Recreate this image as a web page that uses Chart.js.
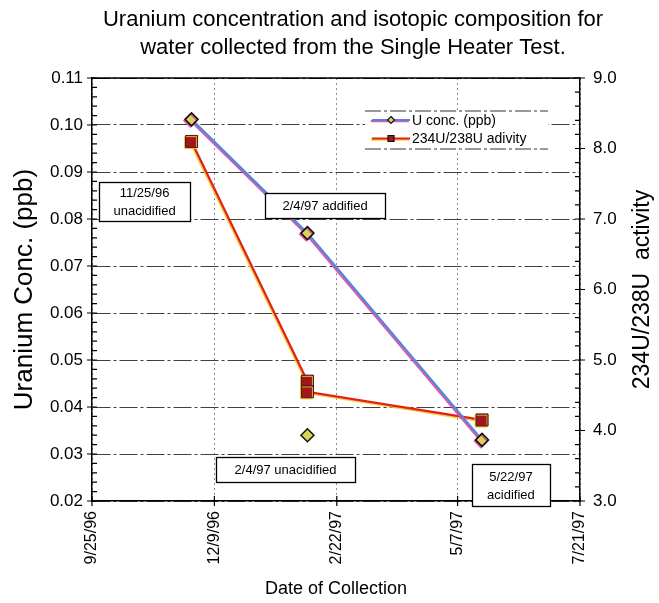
<!DOCTYPE html>
<html>
<head>
<meta charset="utf-8">
<script src="https://cdn.jsdelivr.net/npm/chart.js@4/dist/chart.umd.min.js"></script>
<style>
  html, body { margin: 0; padding: 0; background: #fff; }
  canvas { display: block; }
</style>
</head>
<body>
<canvas id="chart" width="659" height="603"></canvas>
<script>
// Sample collection dates (m/d/yy) and measured values
const acidifiedDates = ['11/25/96', '2/4/97', '5/22/97'];
const uConcPpb = [0.1012, 0.077, 0.033];
const unacidifiedDates = ['2/4/97'];
const unacidifiedUConcPpb = [0.034];
const ratioDates = ['11/25/96', '2/4/97', '2/4/97', '5/22/97'];
const activityRatio = [8.1, 4.7, 4.55, 4.15];
const dateTickLabels = ['9/25/96', '12/9/96', '2/22/97', '5/7/97', '7/21/97'];
const seriesLabels = ['U conc. (ppb)', '234U/238U adivity'];
const titleLines = ['Uranium concentration and isotopic composition for',
                    'water collected from the Single Heater Test.'];

// Boxed notes, anchored in data units (day, left-axis value)
const notes = [
  { lines: ['11/25/96', 'unacidified'], day: 32.2, value: 0.0838, w: 91, h: 39 },
  { lines: ['2/4/97 addified'], day: 142.8, value: 0.0828, w: 120, h: 25 },
  { lines: ['2/4/97 unacidified'], day: 118.6, value: 0.0268, w: 139, h: 25 },
  { lines: ['5/22/97', 'acidified'], day: 256.7, value: 0.0234, w: 78, h: 42 }
];

const FONT = '"Liberation Sans", Arial, Helvetica, sans-serif';
const ORIGIN = Date.UTC(1996, 8, 25);

function dayOf(s) {
  const [m, d, y] = s.split('/').map(Number);
  return Math.round((Date.UTC(1900 + y, m - 1, d) - ORIGIN) / 864e5);
}
const toPoints = (dates, vals) => dates.map((d, i) => ({ x: dayOf(d), y: vals[i] }));
const tickDays = dateTickLabels.map(dayOf);

const diamondFill = '#d8d45a';
const squareFill = '#a3161b';

// Axis tick marks (major crossing the axis, minor inside), legend, notes, right title
const decor = {
  id: 'decor',
  afterLayout(chart) {
    // centre the title block a little right of the canvas centre
    chart.titleBlock.left = 47;
    chart.titleBlock.right = 659;
  },
  beforeDatasetDraw(chart, args) {
    const ds = chart.data.datasets[args.index];
    const ctx = chart.ctx;
    ctx.save();
    if (ds.fringeColor) {
      ctx.shadowColor = ds.fringeColor;
      ctx.shadowOffsetX = ds.fringeOffset[0];
      ctx.shadowOffsetY = ds.fringeOffset[1];
      ctx.shadowBlur = 0;
    }
  },
  afterDatasetDraw(chart) {
    chart.ctx.restore();
  },
  afterDatasetsDraw(chart) {
    const { ctx, chartArea: ca, scales } = chart;
    ctx.save();

    // top frame line
    ctx.strokeStyle = '#000';
    ctx.lineWidth = 1.5;
    ctx.beginPath();
    ctx.moveTo(ca.left, ca.top);
    ctx.lineTo(ca.right, ca.top);
    ctx.stroke();

    // tick marks
    ctx.lineWidth = 1.2;
    ctx.beginPath();
    const vTicks = (scale, x, dir) => {
      const t = scale.ticks.map(k => k.value);
      for (let i = 0; i < t.length; i++) {
        const p = scale.getPixelForValue(t[i]);
        ctx.moveTo(x - 5 * dir, p);
        ctx.lineTo(x + 5 * dir, p);
        if (i < t.length - 1) {
          for (let j = 1; j < 5; j++) {
            const q = scale.getPixelForValue(t[i] + (t[i + 1] - t[i]) * j / 5);
            ctx.moveTo(x, q);
            ctx.lineTo(x + 5 * dir, q);
          }
        }
      }
    };
    vTicks(scales.y, ca.left, 1);
    vTicks(scales.y1, ca.right, -1);
    scales.x.ticks.forEach(k => {
      const p = scales.x.getPixelForValue(k.value);
      ctx.moveTo(p, ca.bottom - 5);
      ctx.lineTo(p, ca.bottom + 5);
    });
    ctx.stroke();

    // legend box
    const L = ca.left + 273, T = ca.top + 32.5, W = 183, H = 39;
    ctx.fillStyle = '#fff';
    ctx.fillRect(L, T, W, H);
    ctx.strokeStyle = '#333';
    ctx.lineWidth = 1;
    ctx.setLineDash([16, 3, 3, 3]);
    ctx.beginPath();
    ctx.moveTo(L, T + 0.5); ctx.lineTo(L + W, T + 0.5);
    ctx.moveTo(L, T + H - 0.5); ctx.lineTo(L + W, T + H - 0.5);
    ctx.stroke();
    ctx.setLineDash([]);
    [0, 1].forEach(i => {
      const ds = chart.data.datasets[i];
      const cy = T + 9.5 + i * 18.5;
      const x0 = L + 7, x1 = L + 45, cx = (x0 + x1) / 2;
      ctx.save();
      ctx.shadowColor = ds.fringeColor;
      ctx.shadowOffsetX = ds.fringeOffset[0];
      ctx.shadowOffsetY = ds.fringeOffset[1];
      ctx.strokeStyle = ds.borderColor;
      ctx.lineWidth = ds.borderWidth;
      ctx.beginPath();
      ctx.moveTo(x0, cy); ctx.lineTo(x1, cy);
      ctx.stroke();
      ctx.restore();
      ctx.fillStyle = ds.pointBackgroundColor;
      ctx.strokeStyle = '#111';
      ctx.lineWidth = 1.2;
      ctx.beginPath();
      if (ds.pointStyle === 'rectRot') {
        ctx.moveTo(cx, cy - 3.5); ctx.lineTo(cx + 3.5, cy);
        ctx.lineTo(cx, cy + 3.5); ctx.lineTo(cx - 3.5, cy);
        ctx.closePath();
      } else {
        ctx.rect(cx - 3, cy - 3, 6, 6);
      }
      ctx.fill();
      ctx.stroke();
      ctx.fillStyle = '#000';
      ctx.font = '14px ' + FONT;
      ctx.textAlign = 'left';
      ctx.textBaseline = 'middle';
      ctx.fillText(ds.label, L + 47, cy + 1);
    });

    // boxed notes
    notes.forEach(n => {
      const cx = scales.x.getPixelForValue(n.day);
      const cy = scales.y.getPixelForValue(n.value);
      const x = Math.round(cx - n.w / 2) + 0.5, y = Math.round(cy - n.h / 2) + 0.5;
      ctx.fillStyle = '#fff';
      ctx.fillRect(x, y, n.w, n.h);
      ctx.strokeStyle = '#000';
      ctx.lineWidth = 1.3;
      ctx.strokeRect(x, y, n.w, n.h);
      ctx.fillStyle = '#000';
      ctx.font = '13px ' + FONT;
      ctx.textAlign = 'center';
      ctx.textBaseline = 'middle';
      const lh = 18;
      n.lines.forEach((t, k) => {
        ctx.fillText(t, cx, cy + (k - (n.lines.length - 1) / 2) * lh + 1);
      });
    });

    // right-hand axis title, reading upward
    ctx.translate(643, (ca.top + ca.bottom) / 2);
    ctx.rotate(-Math.PI / 2);
    ctx.fillStyle = '#000';
    ctx.font = '23px ' + FONT;
    ctx.textAlign = 'center';
    ctx.textBaseline = 'middle';
    ctx.fillText('234U/238U  activity', 0, 0);
    ctx.restore();
  }
};

new Chart(document.getElementById('chart'), {
  type: 'scatter',
  data: {
    datasets: [
      {
        label: seriesLabels[0],
        data: toPoints(acidifiedDates, uConcPpb),
        yAxisID: 'y',
        showLine: true,
        borderColor: '#4f86e0',
        borderWidth: 2.2,
        fringeColor: 'rgba(222,70,160,0.9)',
        fringeOffset: [-1.2, 1.2],
        pointStyle: 'rectRot',
        pointRadius: 6.5,
        pointBackgroundColor: diamondFill,
        pointBorderColor: '#111',
        pointBorderWidth: 1.5
      },
      {
        label: seriesLabels[1],
        data: toPoints(ratioDates, activityRatio),
        yAxisID: 'y1',
        showLine: true,
        borderColor: '#e0201c',
        borderWidth: 2.2,
        fringeColor: 'rgba(245,200,40,0.9)',
        fringeOffset: [-1, 1.2],
        pointStyle: 'rect',
        pointRadius: 8.5,
        pointBackgroundColor: squareFill,
        pointBorderColor: '#3a2020',
        pointBorderWidth: 1
      },
      {
        label: 'U conc. (ppb), unacidified',
        data: toPoints(unacidifiedDates, unacidifiedUConcPpb),
        yAxisID: 'y',
        showLine: false,
        pointStyle: 'rectRot',
        pointRadius: 6.5,
        pointBackgroundColor: diamondFill,
        pointBorderColor: '#111',
        pointBorderWidth: 1.5
      }
    ]
  },
  options: {
    responsive: false,
    animation: false,
    devicePixelRatio: 1,
    layout: { padding: 0 },
    plugins: {
      legend: { display: false },
      tooltip: { enabled: false },
      title: {
        display: true,
        text: titleLines,
        color: '#000',
        font: { family: FONT, size: 22, weight: 'normal', lineHeight: 28 / 22 },
        padding: { top: 6, bottom: 16 }
      }
    },
    scales: {
      x: {
        type: 'linear',
        min: tickDays[0],
        max: tickDays[tickDays.length - 1],
        afterBuildTicks: s => { s.ticks = tickDays.map(v => ({ value: v })); },
        afterFit: s => { s.height = 102; },
        ticks: {
          color: '#000',
          font: { family: FONT, size: 16 },
          minRotation: 90,
          maxRotation: 90,
          padding: 10,
          callback: v => dateTickLabels[tickDays.indexOf(v)] || ''
        },
        grid: { color: '#8c8c8c', lineWidth: 1, drawTicks: false },
        border: { color: '#000', width: 1.5, dash: [2, 3] },
        title: {
          display: true,
          text: 'Date of Collection',
          color: '#000',
          font: { family: FONT, size: 18 },
          padding: { top: 0, bottom: 3 }
        }
      },
      y: {
        position: 'left',
        min: 0.02,
        max: 0.11,
        afterFit: s => { s.width = 92; },
        ticks: {
          stepSize: 0.01,
          color: '#000',
          font: { family: FONT, size: 17 },
          padding: 9,
          callback: v => v.toFixed(2)
        },
        grid: {
          color: c => (c.tick && Math.abs(c.tick.value - 0.11) < 1e-9) ? '#000' : '#404040',
          lineWidth: 1,
          drawTicks: false
        },
        border: { color: '#000', width: 1.5, dash: [18, 3, 3, 3] },
        title: {
          display: true,
          text: 'Uranium Conc. (ppb)',
          color: '#000',
          font: { family: FONT, size: 26 },
          padding: { top: 9, bottom: 0 }
        }
      },
      y1: {
        position: 'right',
        min: 3,
        max: 9,
        afterFit: s => { s.width = 79; },
        ticks: {
          stepSize: 1,
          color: '#000',
          font: { family: FONT, size: 17 },
          padding: 13,
          callback: v => v.toFixed(1)
        },
        grid: { drawOnChartArea: false, drawTicks: false },
        border: { color: '#000', width: 1.5 }
      }
    }
  },
  plugins: [decor]
});
</script>
</body>
</html>
